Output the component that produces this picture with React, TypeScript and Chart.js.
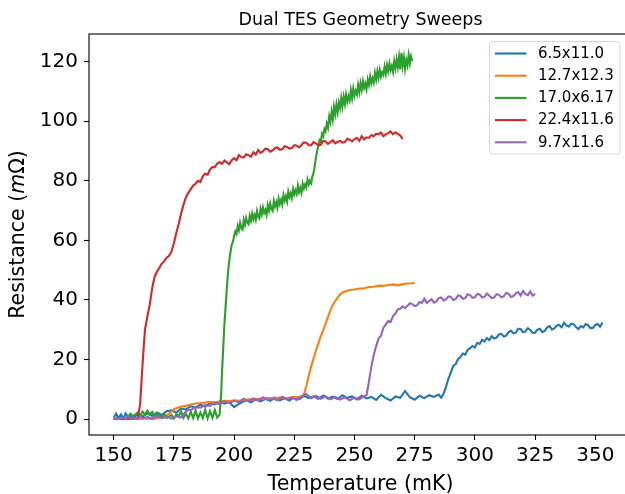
import React, { useEffect, useRef } from "react";
import { Chart, registerables } from "chart.js";

Chart.register(...registerables);

const TITLE = "Dual TES Geometry Sweeps";
const X_LABEL = "Temperature (mK)";
const X_TICKS = [150, 175, 200, 225, 250, 275, 300, 325, 350];
const Y_TICKS = [0, 20, 40, 60, 80, 100, 120];
const X_RANGE = [139.75, 365.25];
const Y_RANGE = [-5.37, 129.3];
const SERIES_LABELS = ["6.5x11.0", "12.7x12.3", "17.0x6.17", "22.4x11.6", "9.7x11.6"];
const SERIES_COLORS = ["#1f77b4", "#ff7f0e", "#2ca02c", "#d62728", "#9467bd"];

// [temperature mK, resistance mOhm]
const BLUE: number[][] = [
  [150, 0.5], [151, 1.8], [152, 0.3], [153, 1.5], [154, 0.2], [155, 1.9], [156, 0.6], [157, 1.2], [158, 0.4],
  [160, 1.6], [162, 0.8], [164, 1.9], [166, 1.0], [168, 2.2], [170, 1.4], [172, 2.6], [174, 2.9], [176, 2.2],
  [178, 3.5], [180, 3.2], [182, 4.3], [184, 3.8], [186, 4.8], [188, 4.2], [190, 5.3], [192, 4.9], [194, 5.8],
  [196, 5.2], [198, 5.9], [199, 4.8], [200, 4.0], [201, 4.6], [203, 5.5], [205, 6.3], [207, 5.6], [209, 6.6],
  [211, 5.9], [213, 6.8], [215, 6.1], [217, 7.2], [219, 6.3], [221, 7.0], [223, 6.2], [225, 7.4], [227, 6.6],
  [229, 7.8], [231, 7.0], [233, 7.6], [235, 6.8], [237, 7.9], [239, 6.9], [241, 7.5], [243, 6.7], [245, 8.0],
  [247, 7.1], [249, 7.6], [251, 6.6], [253, 7.8], [255, 6.9], [257, 7.4], [259, 6.4], [261, 8.1], [263, 7.0],
  [265, 6.2], [267, 7.6], [269, 7.1], [271, 9.4], [273, 7.3], [275, 6.5], [277, 7.8], [279, 7.0], [281, 8.0],
  [283, 7.4], [285, 8.2], [286, 7.2], [287, 8.5], [288, 10.8], [289, 13.5], [290, 15.6], [291, 17.8], [292, 18.4],
  [293, 20.1], [294, 20.8], [295, 22.0], [296, 21.6], [297, 23.2], [298, 23.8], [299, 24.5], [300, 24.0],
  [301, 25.6], [302, 25.2], [303, 26.6], [304, 26.0], [305, 27.2], [306, 26.5], [307, 27.8], [308, 27.0],
  [309, 27.3], [310, 28.4], [311, 28.6], [312, 27.7], [313, 28.0], [314, 29.2], [315, 29.6], [316, 28.8],
  [317, 29.0], [318, 30.3], [319, 30.2], [320, 29.1], [321, 29.4], [322, 30.5], [323, 29.9], [324, 28.9],
  [325, 29.0], [326, 30.0], [327, 30.3], [328, 29.2], [329, 29.6], [330, 30.8], [331, 31.2], [332, 30.1],
  [333, 30.4], [334, 31.4], [335, 31.6], [336, 30.8], [337, 32.3], [338, 31.4], [339, 31.0], [340, 32.0],
  [341, 31.8], [342, 30.9], [343, 30.2], [344, 31.2], [345, 30.8], [346, 31.9], [347, 31.5], [348, 30.5],
  [349, 30.6], [350, 31.6], [351, 31.9], [352, 31.0], [353, 32.4],
];

const ORANGE: number[][] = [
  [150, 0.1], [152, 0.0], [154, 0.2], [156, 0.0], [158, 0.1], [160, 0.0], [162, 0.1], [164, 0.2], [166, 0.1],
  [168, 0.3], [170, 0.5], [172, 1.2], [174, 2.4], [175, 3.3], [176, 3.6], [178, 4.2], [180, 4.4], [182, 4.9],
  [184, 5.2], [186, 5.4], [188, 5.5], [190, 5.8], [192, 5.6], [194, 5.9], [196, 6.1], [198, 6.0], [200, 6.3],
  [202, 6.1], [204, 6.4], [206, 6.6], [208, 6.5], [210, 6.8], [212, 6.7], [214, 7.0], [216, 6.9], [218, 7.1],
  [220, 7.2], [222, 7.0], [224, 7.4], [226, 7.3], [228, 7.6], [229, 8.2], [230, 11.0], [231, 14.5], [232, 17.6],
  [233, 20.3], [234, 23.0], [235, 25.4], [236, 27.8], [237, 29.8], [238, 32.0], [239, 34.2], [240, 36.5],
  [241, 38.2], [242, 39.6], [243, 40.8], [244, 41.8], [245, 42.4], [246, 42.8], [247, 43.1], [248, 43.3],
  [250, 43.5], [252, 43.8], [254, 43.9], [256, 44.3], [258, 44.4], [260, 44.8], [262, 44.7], [264, 45.0],
  [266, 45.2], [268, 44.9], [270, 45.3], [272, 45.5], [274, 45.6], [275, 45.7],
];

const GREEN: number[][] = [
  [150, 0.0], [152, 0.3], [154, 0.1], [156, 0.8], [157, 1.8], [158, 0.9], [160, 2.2], [161, 1.2], [162, 2.5],
  [163, 1.4], [164, 2.8], [165, 1.5], [166, 2.4], [167, 0.8], [168, 1.9], [170, 0.6], [171, 1.7], [172, 0.3],
  [174, 1.4], [175, 0.2], [176, 1.6], [177, 0.9], [178, 2.6], [179, 0.4], [180, 1.8], [181, 0.2], [182, 2.4],
  [183, 0.3], [184, 2.9], [185, 0.2], [186, 2.2], [187, 0.3], [188, 3.1], [189, 0.2], [190, 2.6], [191, 0.4],
  [192, 3.0], [193, 0.5], [194, 1.5], [194.6, 8.0], [195, 16.0], [195.5, 24.0], [196, 32.0], [196.5, 38.0],
  [197, 44.0], [197.5, 49.5], [198, 53.0], [198.5, 56.0], [199, 58.5], [199.5, 59.5],
  [200, 61.5], [200.5, 63.0], [201, 62.2], [201.5, 64.8], [202, 63.4], [202.5, 65.9], [203, 64.1], [203.5, 63.6],
  [204, 66.8], [204.5, 65.2], [205, 67.5], [205.5, 66.0], [206, 65.4], [206.5, 68.2], [207, 66.6], [207.5, 69.0],
  [208, 67.1], [208.5, 68.5], [209, 66.9], [209.5, 69.8], [210, 68.0], [210.5, 67.4], [211, 70.6], [211.5, 68.8],
  [212, 71.0], [212.5, 69.2], [213, 70.2], [213.5, 68.6], [214, 71.8], [214.5, 70.0], [215, 72.4], [215.5, 70.6],
  [216, 69.9], [216.5, 73.2], [217, 71.4], [217.5, 72.8], [218, 71.0], [218.5, 74.0], [219, 72.2], [219.5, 73.6],
  [220, 72.0], [220.5, 75.2], [221, 73.4], [221.5, 74.8], [222, 73.0], [222.5, 76.4], [223, 74.6], [223.5, 75.8],
  [224, 74.2], [224.5, 77.2], [225, 75.4], [225.5, 76.8], [226, 75.6], [226.5, 78.4], [227, 76.2], [227.5, 77.6],
  [228, 76.0], [228.5, 79.0], [229, 77.4], [229.5, 78.8], [230, 77.8], [230.5, 80.4], [231, 78.8], [231.5, 80.0],
  [232, 79.2], [232.5, 81.4], [233, 82.6], [233.5, 85.0], [234, 87.8], [234.5, 90.0], [235, 91.8], [235.5, 93.6],
  [236, 93.0], [236.5, 95.8], [237, 95.0], [237.5, 97.4], [238, 96.6], [238.5, 99.2], [239, 97.8], [239.5, 101.6],
  [240, 99.8], [240.5, 103.2], [241, 100.6], [241.5, 104.8], [242, 102.4], [242.5, 105.6], [243, 103.0],
  [243.5, 106.2], [244, 104.4], [244.5, 107.8], [245, 105.0], [245.5, 108.2], [246, 105.8], [246.5, 109.0],
  [247, 106.6], [247.5, 108.4], [248, 107.0], [248.5, 110.4], [249, 107.8], [249.5, 111.0], [250, 108.6],
  [250.5, 110.2], [251, 109.0], [251.5, 112.2], [252, 109.8], [252.5, 112.8], [253, 110.6], [253.5, 113.4],
  [254, 111.2], [254.5, 112.6], [255, 110.8], [255.5, 114.0], [256, 112.2], [256.5, 115.0], [257, 112.8],
  [257.5, 114.4], [258, 113.0], [258.5, 116.2], [259, 114.0], [259.5, 116.8], [260, 114.6], [260.5, 117.2],
  [261, 115.0], [261.5, 116.4], [262, 115.6], [262.5, 118.4], [263, 116.0], [263.5, 118.8], [264, 116.8],
  [264.5, 119.4], [265, 117.2], [265.5, 118.6], [266, 116.6], [266.5, 120.2], [267, 117.8], [267.5, 120.8],
  [268, 118.2], [268.5, 121.6], [269, 117.4], [269.5, 123.0], [270, 118.6], [270.5, 121.4], [271, 117.6],
  [271.5, 120.6], [272, 118.8], [272.5, 122.2], [273, 119.4], [273.5, 121.8], [274, 120.2],
];

const RED: number[][] = [
  [150, 0.0], [152, 0.1], [154, 0.0], [156, 0.2], [158, 0.1], [160, 0.4], [161, 5.0], [161.5, 12.0],
  [162, 18.5], [162.5, 24.5], [163, 30.0], [164, 34.5], [165, 38.5], [166, 44.0], [167, 47.8], [168, 49.5],
  [169, 50.8], [170, 52.2], [171, 53.0], [172, 54.2], [173, 54.8], [174, 56.2], [175, 59.0], [176, 62.5],
  [177, 65.5], [178, 69.0], [179, 72.0], [180, 74.5], [181, 76.0], [182, 77.2], [183, 78.4], [184, 79.0],
  [185, 80.0], [186, 79.6], [187, 81.5], [188, 82.4], [189, 82.0], [190, 83.8], [191, 84.6], [192, 84.6],
  [193, 85.8], [194, 86.3], [195, 85.7], [196, 86.8], [197, 86.2], [198, 85.6], [199, 86.9], [200, 87.6],
  [201, 86.9], [202, 88.6], [203, 88.0], [204, 87.8], [205, 88.9], [206, 88.6], [207, 88.1], [208, 89.6],
  [209, 88.8], [210, 90.3], [211, 89.4], [212, 89.9], [213, 90.8], [214, 90.6], [215, 89.8], [216, 90.2],
  [217, 91.0], [218, 91.2], [219, 90.4], [220, 90.6], [221, 91.6], [222, 91.4], [223, 90.8], [224, 91.0],
  [225, 92.0], [226, 91.8], [227, 91.2], [228, 92.0], [229, 92.9], [230, 92.8], [231, 92.0], [232, 91.9],
  [233, 93.0], [234, 92.6], [235, 91.9], [236, 92.1], [237, 93.4], [238, 93.2], [239, 92.4], [240, 93.0],
  [241, 93.6], [242, 92.6], [243, 93.1], [244, 93.4], [245, 92.8], [246, 93.0], [247, 94.1], [248, 93.8],
  [249, 93.2], [250, 94.0], [251, 94.4], [252, 93.4], [253, 95.0], [254, 93.9], [255, 94.6], [256, 94.4],
  [257, 95.4], [258, 95.0], [259, 95.8], [260, 95.6], [261, 96.2], [262, 95.0], [263, 95.6], [264, 96.0],
  [265, 96.6], [266, 95.6], [267, 96.3], [268, 95.8], [269, 95.2], [270, 94.0],
];

const PURPLE: number[][] = [
  [150, 0.2], [152, 0.0], [154, 0.4], [155, 0.1], [156, 1.0], [157, 0.2], [158, 0.5], [160, 0.1], [161, 0.9],
  [162, 0.2], [164, 0.7], [166, 0.0], [168, 1.0], [170, 0.2], [172, 0.8], [174, 0.1], [176, 0.9], [178, 0.5],
  [179, 1.5], [180, 2.6], [181, 3.1], [182, 3.0], [184, 4.0], [186, 3.8], [188, 4.7], [190, 4.4], [192, 5.4],
  [194, 5.0], [196, 5.9], [198, 5.3], [200, 6.1], [202, 5.6], [204, 6.8], [206, 6.0], [208, 6.9], [210, 6.2],
  [212, 7.3], [214, 6.4], [216, 7.0], [218, 6.3], [220, 7.5], [222, 6.6], [224, 7.2], [226, 6.4], [228, 7.6],
  [230, 8.4], [232, 7.0], [234, 7.8], [236, 6.8], [238, 7.6], [240, 6.6], [242, 7.4], [244, 6.5], [246, 7.3],
  [248, 6.3], [250, 7.2], [252, 6.6], [254, 7.6], [255, 8.0], [256, 12.5], [257, 17.6], [258, 21.5],
  [259, 24.5], [260, 27.0], [261, 28.0], [262, 30.6], [263, 31.8], [264, 33.0], [265, 32.6], [266, 34.6],
  [267, 35.4], [268, 36.8], [269, 37.0], [270, 37.8], [271, 37.2], [272, 38.0], [273, 38.9], [274, 38.6],
  [275, 37.9], [276, 38.2], [277, 39.3], [278, 39.0], [279, 40.4], [280, 39.0], [281, 39.6], [282, 40.2],
  [283, 39.1], [284, 39.5], [285, 40.6], [286, 40.8], [287, 39.8], [288, 40.2], [289, 41.2], [290, 41.0],
  [291, 40.0], [292, 40.3], [293, 41.5], [294, 41.3], [295, 40.4], [296, 40.6], [297, 41.9], [298, 41.6],
  [299, 40.7], [300, 40.9], [301, 42.0], [302, 41.8], [303, 40.8], [304, 41.0], [305, 42.1], [306, 41.4],
  [307, 40.6], [308, 40.8], [309, 41.9], [310, 41.7], [311, 40.9], [312, 41.2], [313, 42.4], [314, 42.0],
  [315, 41.0], [316, 41.3], [317, 42.2], [318, 42.6], [319, 41.5], [320, 43.0], [321, 41.9], [322, 41.6],
  [323, 42.8], [324, 41.4], [325, 42.0],
];

const SERIES = [BLUE, ORANGE, GREEN, RED, PURPLE];

const FONT = "DejaVu Sans";

const framePlugin = {
  id: "frame",
  afterDatasetsDraw(chart: any) {
    const { ctx, chartArea } = chart;
    ctx.save();
    ctx.strokeStyle = "#000";
    ctx.lineWidth = 1.1;
    ctx.strokeRect(chartArea.left, chartArea.top, chartArea.right - chartArea.left, chartArea.bottom - chartArea.top);
    ctx.restore();
  },
};

const legendPlugin = {
  id: "mplLegend",
  afterDraw(chart: any) {
    const ctx = chart.ctx;
    const x0 = 489.5, y0 = 41.5, w = 130.5, h = 112.5, r = 3;
    ctx.save();
    ctx.beginPath();
    ctx.moveTo(x0 + r, y0);
    ctx.lineTo(x0 + w - r, y0);
    ctx.arcTo(x0 + w, y0, x0 + w, y0 + r, r);
    ctx.lineTo(x0 + w, y0 + h - r);
    ctx.arcTo(x0 + w, y0 + h, x0 + w - r, y0 + h, r);
    ctx.lineTo(x0 + r, y0 + h);
    ctx.arcTo(x0, y0 + h, x0, y0 + h - r, r);
    ctx.lineTo(x0, y0 + r);
    ctx.arcTo(x0, y0, x0 + r, y0, r);
    ctx.closePath();
    ctx.fillStyle = "rgba(255,255,255,0.8)";
    ctx.fill();
    ctx.strokeStyle = "#d6d6d6";
    ctx.lineWidth = 1;
    ctx.stroke();
    ctx.font = `15px "${FONT}"`;
    ctx.textBaseline = "middle";
    ctx.textAlign = "left";
    chart.data.datasets.forEach((ds: any, i: number) => {
      const cy = 53.5 + i * 22.2;
      ctx.strokeStyle = ds.borderColor;
      ctx.lineWidth = 2.1;
      ctx.beginPath();
      ctx.moveTo(495, cy);
      ctx.lineTo(526.5, cy);
      ctx.stroke();
      ctx.fillStyle = "#000";
      ctx.fillText(ds.label, 538, cy + 0.5);
    });
    ctx.restore();
  },
};

const yTitlePlugin = {
  id: "yTitle",
  afterDraw(chart: any) {
    const ctx = chart.ctx;
    const { top, bottom } = chart.chartArea;
    const cy = (top + bottom) / 2;
    const parts = [
      { t: "Resistance (", f: `20.5px "${FONT}"` },
      { t: "m", f: `italic 20.5px "${FONT}"` },
      { t: "Ω)", f: `20.5px "${FONT}"` },
    ];
    ctx.save();
    let total = 0;
    const widths = parts.map((p) => {
      ctx.font = p.f;
      const wd = ctx.measureText(p.t).width;
      total += wd;
      return wd;
    });
    ctx.translate(24, cy);
    ctx.rotate(-Math.PI / 2);
    ctx.fillStyle = "#000";
    ctx.textBaseline = "alphabetic";
    ctx.textAlign = "left";
    let x = -total / 2;
    parts.forEach((p, i) => {
      ctx.font = p.f;
      ctx.fillText(p.t, x, 0);
      x += widths[i];
    });
    ctx.restore();
  },
};

export default function App() {
  const ref = useRef<HTMLCanvasElement | null>(null);
  useEffect(() => {
    if (!ref.current) return;
    const chart = new Chart(ref.current, {
      type: "line",
      data: {
        datasets: SERIES.map((s, i) => ({
          label: SERIES_LABELS[i],
          data: s.map(([x, y]) => ({ x, y })),
          borderColor: SERIES_COLORS[i],
          backgroundColor: SERIES_COLORS[i],
          borderWidth: 2.1,
          pointRadius: 0,
          tension: 0,
          fill: false,
          order: SERIES.length - i,
        })),
      },
      options: {
        animation: false,
        responsive: false,
        devicePixelRatio: 1,
        layout: { padding: { left: 0, right: 8, top: 0, bottom: 0 } },
        plugins: {
          legend: { display: false },
          tooltip: { enabled: false },
          title: {
            display: true,
            text: TITLE,
            color: "#000",
            fullSize: false,
            font: { family: FONT, size: 17.5, weight: "normal", lineHeight: 1.2 },
            padding: { top: 9.5, bottom: 3.5 },
          },
        },
        scales: {
          x: {
            type: "linear",
            min: X_RANGE[0],
            max: X_RANGE[1],
            afterBuildTicks: (scale: any) => {
              scale.ticks = X_TICKS.map((v) => ({ value: v }));
            },
            afterFit: (scale: any) => {
              scale.height = 59;
            },
            grid: { display: true, drawOnChartArea: false, drawTicks: true, tickLength: 5, tickWidth: 1.1, tickColor: "#000" },
            border: { display: false },
            ticks: { color: "#000", font: { family: FONT, size: 20 }, padding: 4, maxRotation: 0, autoSkip: false },
            title: {
              display: true,
              text: X_LABEL,
              color: "#000",
              font: { family: FONT, size: 20.5, lineHeight: 1.2 },
              padding: { top: 0, bottom: -3 },
            },
          },
          y: {
            type: "linear",
            min: Y_RANGE[0],
            max: Y_RANGE[1],
            afterBuildTicks: (scale: any) => {
              scale.ticks = Y_TICKS.map((v) => ({ value: v }));
            },
            afterFit: (scale: any) => {
              scale.width = 89;
            },
            grid: { display: true, drawOnChartArea: false, drawTicks: true, tickLength: 5, tickWidth: 1.1, tickColor: "#000" },
            border: { display: false },
            ticks: { color: "#000", font: { family: FONT, size: 20 }, padding: 6, autoSkip: false },
          },
        },
      },
      plugins: [framePlugin, legendPlugin, yTitlePlugin],
    } as any);
    return () => chart.destroy();
  }, []);
  return (
    <div style={{ position: "fixed", left: 0, top: 0, width: 625, height: 494, overflow: "hidden", background: "#fff" }}>
      <canvas ref={ref} width={640} height={494} style={{ display: "block", width: 640, height: 494 }} />
    </div>
  );
}
